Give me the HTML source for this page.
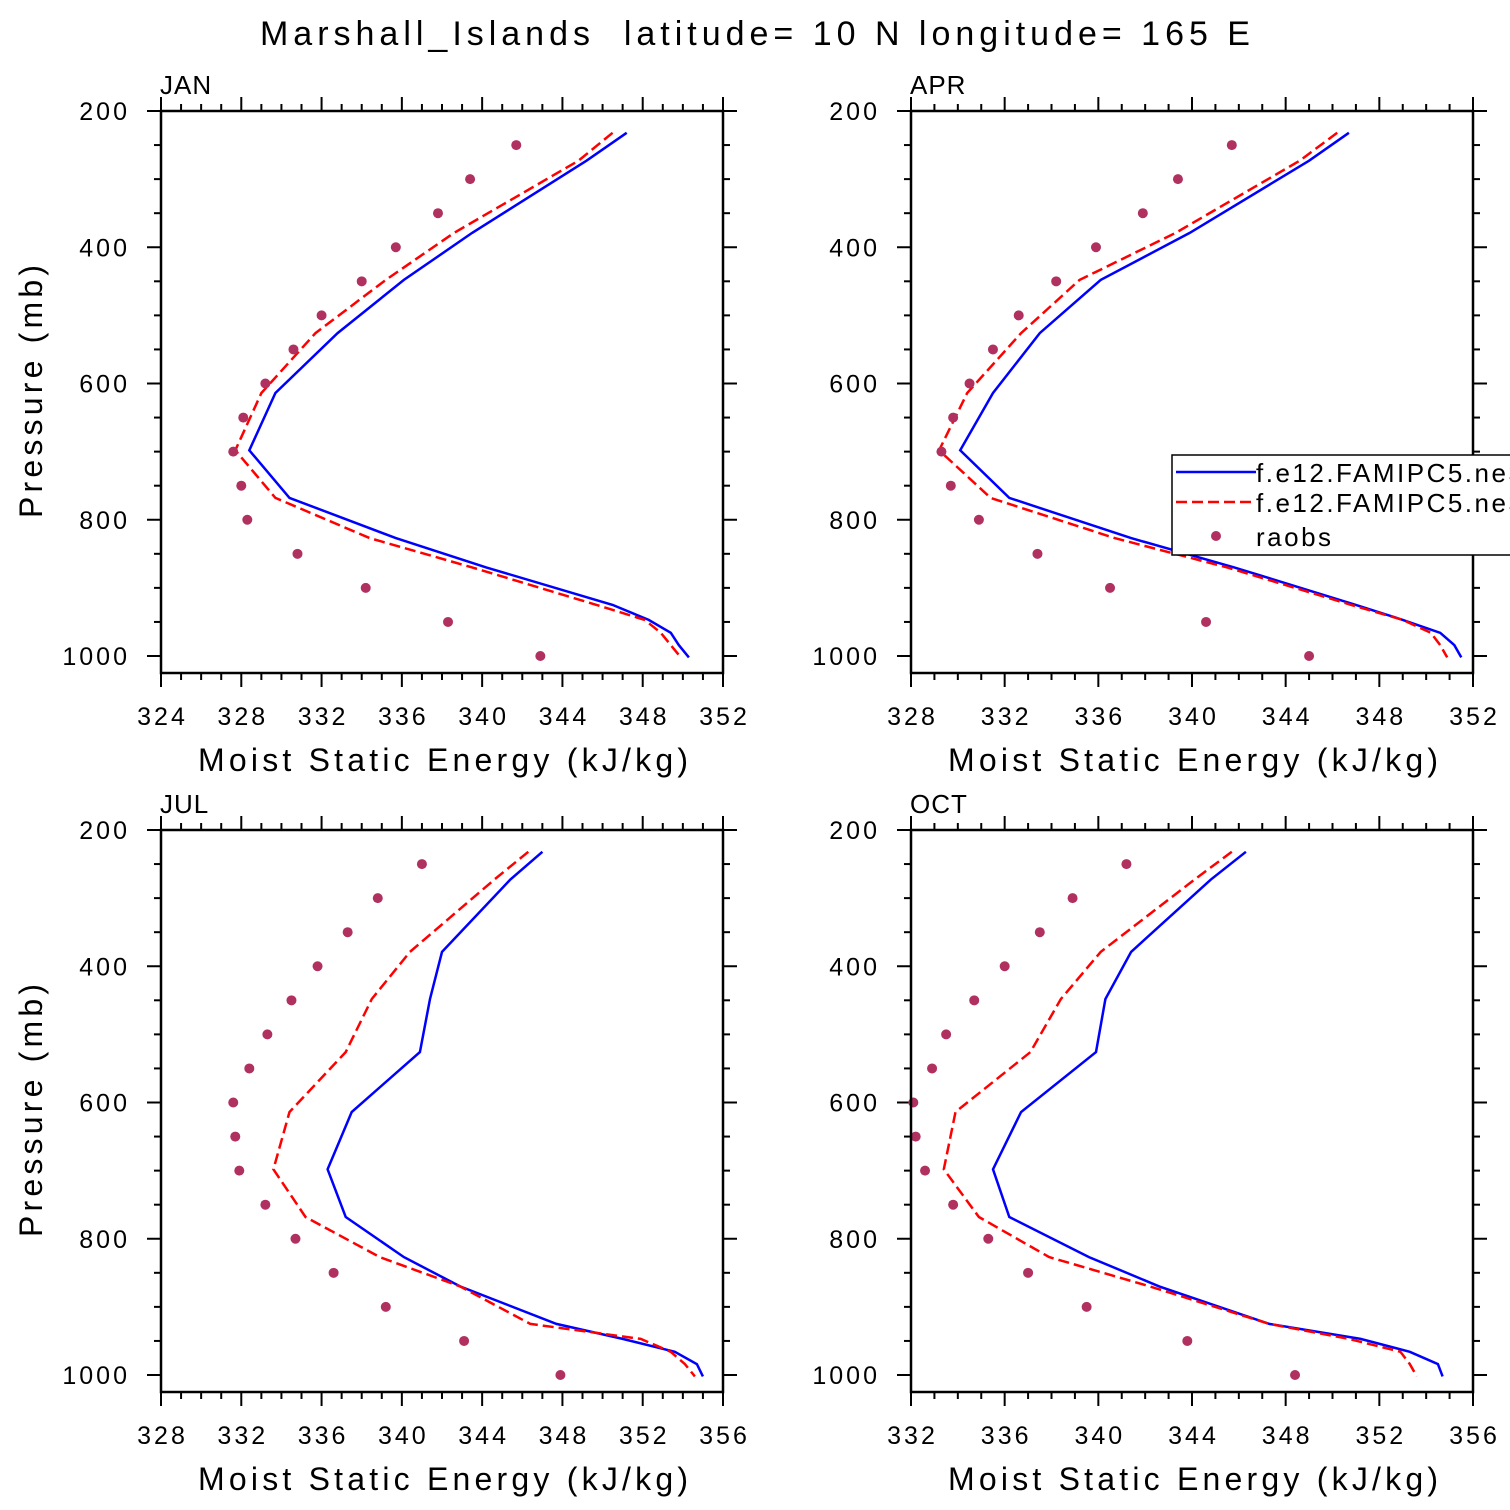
<!DOCTYPE html>
<html><head><meta charset="utf-8"><style>
body{margin:0;background:#fff}
svg{display:block;font-family:"Liberation Sans",sans-serif}
</style></head><body>
<svg id="c" width="1510" height="1510"></svg>
<script>
const levels=[232,273,379,448,526,614,698,768,827,870,925,947,966,984,1002];
const obsLevels=[250,300,350,400,450,500,550,600,650,700,750,800,850,900,950,1000];
const months=["JAN","APR","JUL","OCT"];
const xMins=[324,328,328,332];
const xMaxs=[352,352,356,356];
const blueJAN=[347.2,345.2,339.5,336.1,332.8,329.7,328.4,330.4,335.7,340.2,346.5,348.3,349.4,349.8,350.3];
const redJAN=[346.5,344.8,338.6,335.2,331.7,329.0,327.7,329.7,334.4,339.5,345.7,348.1,348.9,349.4,349.9];
const obsJAN=[341.7,339.4,337.8,335.7,334.0,332.0,330.6,329.2,328.1,327.6,328.0,328.3,330.8,334.2,338.3,342.9];
const blueAPR=[346.7,345.0,339.9,336.1,333.5,331.5,330.1,332.2,337.4,341.8,347.0,349.0,350.6,351.2,351.5];
const redAPR=[346.2,344.6,339.3,335.2,332.7,330.4,329.2,331.4,336.7,341.5,346.8,349.0,350.2,350.6,350.9];
const obsAPR=[341.7,339.4,337.9,335.9,334.2,332.6,331.5,330.5,329.8,329.3,329.7,330.9,333.4,336.5,340.6,345.0];
const blueJUL=[347.0,345.4,342.0,341.4,340.9,337.5,336.3,337.2,340.1,342.9,347.7,351.0,353.6,354.7,355.0];
const redJUL=[346.3,344.6,340.4,338.5,337.2,334.4,333.6,335.2,338.9,342.9,346.4,351.9,353.4,354.1,354.6];
const obsJUL=[341.0,338.8,337.3,335.8,334.5,333.3,332.4,331.6,331.7,331.9,333.2,334.7,336.6,339.2,343.1,347.9];
const blueOCT=[346.3,344.8,341.4,340.3,339.9,336.7,335.5,336.2,339.6,342.6,347.3,351.2,353.3,354.5,354.7];
const redOCT=[345.7,344.1,340.1,338.4,337.1,333.9,333.4,334.9,337.9,342.2,347.3,350.7,352.9,353.3,353.6];
const obsOCT=[341.2,338.9,337.5,336.0,334.7,333.5,332.9,332.1,332.2,332.6,333.8,335.3,337.0,339.5,343.8,348.4];
const blues=[blueJAN,blueAPR,blueJUL,blueOCT];
const reds=[redJAN,redAPR,redJUL,redOCT];
const obss=[obsJAN,obsAPR,obsJUL,obsOCT];
const pTicks=[200,400,600,800,1000];

const NS="http://www.w3.org/2000/svg";
const svg=document.getElementById('c');
function mk(tag,attrs,parent,text){const e=document.createElementNS(NS,tag);for(const k in attrs)e.setAttribute(k,attrs[k]);if(text!==undefined)e.textContent=text;(parent||svg).appendChild(e);return e;}

const title=mk('text',{x:260,y:45,'font-size':34,textLength:990,lengthAdjust:'spacing'},svg,'Marshall_Islands  latitude= 10 N longitude= 165 E');


title.style.whiteSpace='pre';

const W=562,H=562;
const origins=[[161,111],[911,111],[161,830],[911,830]];
for(let i=0;i<4;i++){
  const [x0,y0]=origins[i];
  const g=mk('g',{});
  
  
  const xs=v=>x0+(v-xMins[i])/(xMaxs[i]-xMins[i])*W;
  const ys=p=>y0+(p-200)*545/800;
  const lbl=mk('text',{x:x0-1,y:y0-17,'font-size':26,'letter-spacing':'1'},g,months[i]);
  
  
  for(let p=200;p<=1025;p+=50){
    const major=p%200===0; const L=major?14:7; const y=ys(p);
    mk('line',{x1:x0-L,x2:x0,y1:y,y2:y,stroke:'#000','stroke-width':2},g);
    mk('line',{x1:x0+W,x2:x0+W+L,y1:y,y2:y,stroke:'#000','stroke-width':2},g);
  }
  pTicks.forEach(p=>{const t=mk('text',{x:x0-31,y:ys(p)+9,'text-anchor':'end','font-size':25,'letter-spacing':'3'},g,String(p));
    });
  for(let v=xMins[i];v<=xMaxs[i];v++){
    const major=(v%4===0); const L=major?14:7; const x=xs(v);
    mk('line',{x1:x,x2:x,y1:y0+H,y2:y0+H+L,stroke:'#000','stroke-width':2},g);
    mk('line',{x1:x,x2:x,y1:y0-L,y2:y0,stroke:'#000','stroke-width':2},g);
    if(major){const t=mk('text',{x:x+1.5,y:y0+H+52,'text-anchor':'middle','font-size':25,'letter-spacing':'3'},g,String(v));
      }
  }
  const xt=mk('text',{x:x0+37,y:y0+H+98,'font-size':32,textLength:490,lengthAdjust:'spacing'},g,'Moist Static Energy (kJ/kg)');
  
  if(i%2===0){const yt=mk('text',{x:0,y:0,transform:`translate(${42},${y0+H/2+126}) rotate(-90)`,'font-size':32,textLength:253,lengthAdjust:'spacing'},g,'Pressure (mb)');
    }
  const pts=a=>a.map((v,k)=>xs(v).toFixed(1)+','+ys(levels[k]).toFixed(1)).join(' ');
  const bl=mk('polyline',{points:pts(blues[i]),fill:'none',stroke:'#0000ff','stroke-width':2.5},g);
  
  const rl=mk('polyline',{points:pts(reds[i]),fill:'none',stroke:'#ff0000','stroke-width':2.5,'stroke-dasharray':'11,5'},g);
  
  obss[i].forEach((v,k)=>{const c=mk('circle',{cx:xs(v),cy:ys(obsLevels[k]),r:5,fill:'#b03060'},g);
    });
  mk('rect',{x:x0,y:y0,width:W,height:H,fill:'none',stroke:'#000','stroke-width':2.5},g);
}
const lg=mk('g',{});


mk('rect',{x:1172,y:455,width:360,height:100,fill:'#fff',stroke:'#000','stroke-width':1.5},lg);
mk('line',{x1:1176,x2:1256,y1:472,y2:472,stroke:'#0000ff','stroke-width':2.5},lg);
mk('line',{x1:1176,x2:1256,y1:502,y2:502,stroke:'#ff0000','stroke-width':2.5,'stroke-dasharray':'11,5'},lg);
mk('circle',{cx:1216,cy:536,r:5,fill:'#b03060'},lg);
const e1=mk('text',{x:1256,y:482,'font-size':26,'letter-spacing':'2.5'},lg,'f.e12.FAMIPC5.ne30');

const e2=mk('text',{x:1256,y:512,'font-size':26,'letter-spacing':'2.5'},lg,'f.e12.FAMIPC5.ne30');

const e3=mk('text',{x:1256,y:546,'font-size':26,'letter-spacing':'2.5'},lg,'raobs');

</script>
</body></html>
